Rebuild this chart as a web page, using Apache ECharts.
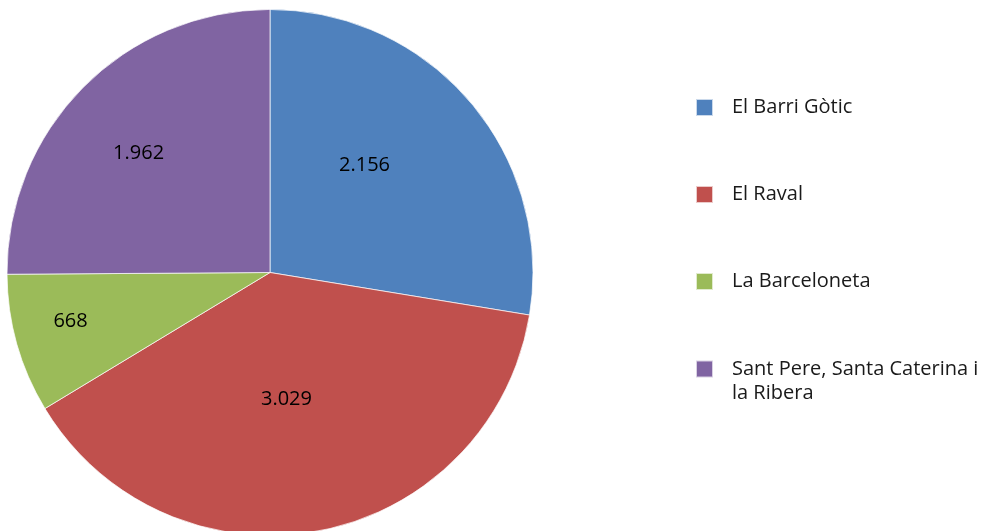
<!DOCTYPE html>
<html>
<head>
<meta charset="utf-8">
<script src="https://cdn.jsdelivr.net/npm/echarts@6/dist/echarts.min.js"></script>
<style>
  html, body { margin: 0; padding: 0; background: #fff; }
  #chart { width: 994px; height: 531px; }
</style>
</head>
<body>
<div id="chart"></div>
<script>
// districtes i valors
var barris = ['El Barri Gòtic', 'El Raval', 'La Barceloneta', 'Sant Pere, Santa Caterina i la Ribera'];
var valors = [2156, 3029, 668, 1962];
var colors = ['#4F81BD', '#C0504D', '#9BBB59', '#8064A2'];

// desplaçament de les etiquetes respecte la posició "inside"
var labelShift = [[-8, -20], [-9, -5], [-70, 12], [-36, -24]];

var font = 'Open Sans';

var chart = echarts.init(document.getElementById('chart'));
chart.setOption({
  animation: false,
  backgroundColor: '#fff',
  legend: [
    {
      orient: 'vertical',
      left: 695,
      top: 95.5,
      padding: 0,
      itemWidth: 17,
      itemHeight: 17,
      itemGap: 63,
      icon: 'rect',
      data: barris.slice(0, 3),
      textStyle: { fontFamily: font, fontSize: 20, color: '#1a1a1a', lineHeight: 24, padding: [0, 0, 0, 14] }
    },
    {
      // la darrera entrada ocupa dues línies; el quadrat queda a la primera
      orient: 'vertical',
      left: 695,
      top: 359,
      padding: 0,
      itemWidth: 17,
      itemHeight: 17,
      icon: 'rect',
      data: barris.slice(3),
      formatter: '{t|{name}}',
      textStyle: {
        width: 262, overflow: 'break', padding: [24, 0, 0, 14],
        rich: { t: { fontFamily: font, fontSize: 20, color: '#1a1a1a', lineHeight: 24 } }
      }
    }
  ],
  series: [{
    type: 'pie',
    center: [270, 272.5],
    radius: 263,
    startAngle: 90,
    clockwise: true,
    silent: true,
    itemStyle: { borderColor: 'rgba(255,255,255,0.7)', borderWidth: 1 },
    label: {
      position: 'inside',
      fontFamily: font,
      fontSize: 20,
      color: '#000',
      formatter: function (p) {
        return p.value.toLocaleString('de-DE');
      }
    },
    labelLayout: function (p) {
      return { dx: labelShift[p.dataIndex][0], dy: labelShift[p.dataIndex][1] };
    },
    data: barris.map(function (b, i) {
      return { name: b, value: valors[i], itemStyle: { color: colors[i] } };
    })
  }]
});
</script>
</body>
</html>
